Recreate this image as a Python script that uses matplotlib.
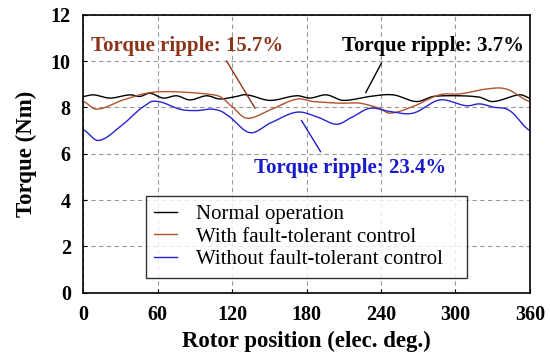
import matplotlib.pyplot as plt
import numpy as np

plt.rcParams['font.family'] = 'Liberation Serif'

# rotor position (elec. deg.) and torque (Nm)
normal_x = [0, 8.1, 21.5, 37.6, 45.7, 53.7, 64.4, 75.2, 85.9, 99.4, 110, 123.5, 131.6, 150.4,
            171.9, 182.6, 196, 209.4, 230.9, 249.7, 268.5, 281.9, 303.4, 319.5, 330.2, 351.7, 360]
normal_y = [8.47, 8.54, 8.40, 8.54, 8.47, 8.61, 8.40, 8.50, 8.32, 8.50, 8.36, 8.47, 8.54, 8.30,
            8.50, 8.40, 8.54, 8.30, 8.47, 8.54, 8.25, 8.47, 8.50, 8.44, 8.25, 8.54, 8.40]

ftc_x = [0, 10.8, 32.2, 51, 67.2, 85.9, 99.4, 110, 118, 131.6, 150.4, 171.9, 185.3, 206.8,
         222.9, 239, 247, 265.8, 287.3, 303.4, 324.9, 341, 360]
ftc_y = [8.25, 7.92, 8.32, 8.61, 8.68, 8.64, 8.58, 8.47, 8.11, 7.53, 7.89, 8.35, 8.25, 8.18,
         8.18, 7.96, 7.75, 8.04, 8.54, 8.58, 8.79, 8.79, 8.25]

noftc_x = [0, 12.1, 29.6, 51, 60.4, 77.9, 91.3, 104.7, 115.5, 134, 150.4, 171.9, 188, 204,
           214.8, 230.9, 247, 265.8, 287.3, 308.8, 319.5, 330.2, 343.6, 360]
noftc_y = [7.03, 6.57, 7.17, 8.11, 8.25, 7.92, 7.86, 7.92, 7.68, 6.91, 7.32, 7.79, 7.60, 7.27,
           7.53, 7.96, 7.82, 7.75, 8.32, 8.07, 8.15, 8.01, 7.86, 7.0]

# annotation texts, positions and leader lines (start, end)
notes = ['Torque ripple: 15.7%', 'Torque ripple: 3.7%', 'Torque ripple: 23.4%']
note_xy = [(83.5, 10.63), (281.9, 10.63), (214.8, 5.37)]
leader_x = [(115.5, 138.3), (240.3, 227.7), (175.9, 191.2)]
leader_y = [(10.0, 7.97), (9.91, 8.64), (7.43, 6.09)]


def smooth(xs, ys, n=400):
    # Catmull-Rom spline through the read points
    xs = np.array(xs)
    ys = np.array(ys)
    xn = np.linspace(xs[0], xs[-1], n)
    out = []
    for xv in xn:
        i = min(np.searchsorted(xs, xv, side='right') - 1, len(xs) - 2)
        p0 = ys[max(i - 1, 0)]
        p1 = ys[i]
        p2 = ys[i + 1]
        p3 = ys[min(i + 2, len(ys) - 1)]
        t = (xv - xs[i]) / (xs[i + 1] - xs[i])
        out.append(0.5 * (2 * p1 + (-p0 + p2) * t + (2 * p0 - 5 * p1 + 4 * p2 - p3) * t ** 2
                          + (-p0 + 3 * p1 - 3 * p2 + p3) * t ** 3))
    return xn, np.array(out)


fig = plt.figure(figsize=(5.5, 3.58), dpi=100)
ax = fig.add_axes([0.1515, 0.1824, 0.812, 0.7766])

c_brown = '#b0542c'
c_blue = '#2525d0'
note_colors = ['#8c3418', 'black', '#1a1acd']

ax.plot(*smooth(normal_x, normal_y), color='black', lw=1.0, label='Normal operation')
ax.plot(*smooth(ftc_x, ftc_y), color=c_brown, lw=1.0, label='With fault-tolerant control')
ax.plot(*smooth(noftc_x, noftc_y), color=c_blue, lw=1.0, label='Without fault-tolerant control')

for txt, (tx, ty), lx, ly, col in zip(notes, note_xy, leader_x, leader_y, note_colors):
    ax.text(tx, ty, txt, color=col, fontsize=15, fontweight='bold', ha='center', va='center')
    ax.plot(lx, ly, color=col, lw=1.0)

ax.set_xlim(0, 360)
ax.set_ylim(0, 12)
ax.set_xticks(np.arange(0, 361, 60))
ax.set_yticks(np.arange(0, 13, 2))
ax.grid(True, color='#999999', linestyle=(0, (4, 3)), lw=0.8)
ax.tick_params(direction='in', labelsize=14.5, length=3)
ax.tick_params(axis='x', pad=9)
ax.tick_params(axis='y', pad=9)
for lab in ax.get_xticklabels() + ax.get_yticklabels():
    lab.set_fontweight('bold')
for sp in ax.spines.values():
    sp.set_linewidth(1.2)

ax.set_xlabel('Rotor position (elec. deg.)', fontsize=16.5, fontweight='bold', labelpad=4)
ax.set_ylabel('Torque (Nm)', fontsize=16.5, fontweight='bold', labelpad=10)

leg = ax.legend(loc='lower left', bbox_to_anchor=(0.1397, 0.054, 0.7186, 0.3), mode='expand',
                borderaxespad=0, fontsize=15, frameon=True, fancybox=False, edgecolor='black',
                handlelength=1.1, handletextpad=0.9, borderpad=0.4, labelspacing=0.15)
leg.get_frame().set_linewidth(1.0)

fig.savefig('out.png', dpi=100)
